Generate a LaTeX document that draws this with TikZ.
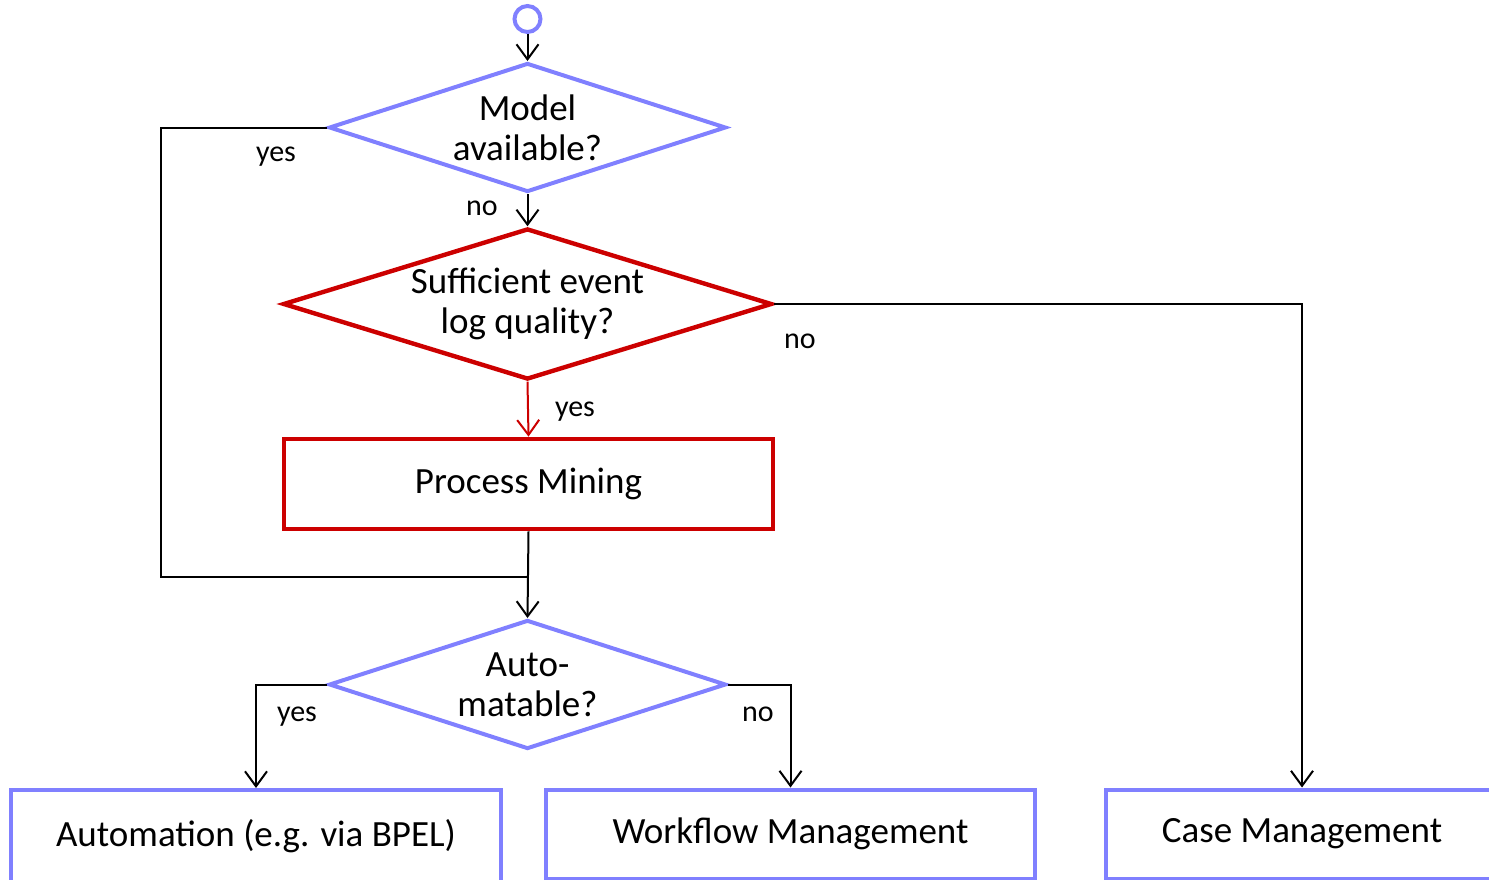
\documentclass[tikz,border=0pt]{standalone}
\usepackage{fontspec}
\setmainfont{Carlito}
\usetikzlibrary{shapes.geometric,arrows.meta}
\definecolor{flowblue}{RGB}{128,128,255}
\definecolor{flowred}{RGB}{204,0,0}
\tikzset{
  conn/.style={draw=black, line width=1pt},
  tip/.style={-{Straight Barb[length=7.5pt,width=11pt,line width=1pt]}},
  bluedia/.style={shape=diamond, draw=flowblue, line width=2pt, inner sep=0pt},
  reddia/.style={shape=diamond, draw=flowred, line width=2.2pt, inner sep=0pt},
  bluebox/.style={shape=rectangle, draw=flowblue, line width=2pt, inner sep=0pt,
    font=\fontsize{18.5}{21}\selectfont},
  redbox/.style={shape=rectangle, draw=flowred, line width=2.4pt, inner sep=0pt,
    font=\fontsize{18.5}{21}\selectfont},
  dtext/.style={font=\fontsize{18.5}{20}\selectfont, align=center},
  lbl/.style={font=\fontsize{15}{18}\selectfont, anchor=base},
}
\begin{document}
\begin{tikzpicture}[x=0.5pt, y=-0.5pt]
\useasboundingbox (0,0) rectangle (1489,879);

% start point
\node[circle, draw=flowblue, line width=2pt, minimum size=13pt, inner sep=0pt] (start) at (527.5,19) {};

% decisions
\node[bluedia, minimum width=198.5pt, minimum height=64.5pt,
      label={[dtext]center:Model\\available?}] (d1) at (527.5,127.5) {};
\node[reddia, minimum width=244.5pt, minimum height=75.5pt,
      label={[dtext]center:Sufficient event\\log quality?}] (d2) at (527.5,304) {};
\node[bluedia, minimum width=198.5pt, minimum height=64.5pt,
      label={[dtext]center:Auto-\\matable?}] (d3) at (527.5,684.5) {};

% activities
\node[redbox, minimum width=244.5pt, minimum height=45pt] (pm) at (528.5,484) {Process Mining};
\node[bluebox, minimum width=245pt, minimum height=46pt] (auto) at (256,836) {Automation (e.g. via BPEL)};
\node[bluebox, minimum width=244.5pt, minimum height=44.5pt] (wf) at (790.5,834) {Workflow Management};
\node[bluebox, minimum width=196pt, minimum height=44.5pt] (case) at (1302,834) {Case Management};

\coordinate (join) at (527.5,577);

% connectors
\draw[conn, tip] (start.south) -- (d1.north);
\draw[conn, tip] (d1.south) -- (d2.north);
\draw[draw=flowred, line width=1pt, -{Straight Barb[length=7.5pt,width=11pt,line width=1pt]}] (d2.south) -- (pm.north);
\draw[conn, tip] (d2.east) -| (case.north);
\draw[conn] (d1.west) -- ++(-166,0) |- (join);
\draw[conn, tip] (pm.south) -- (d3.north);
\draw[conn, tip] (d3.west) -| (auto.north);
\draw[conn, tip] (d3.east) -| (wf.north);

% branch labels
\node[lbl] (l1) at (276,161) {yes};
\node[lbl] (l2) at (482,215) {no};
\node[lbl] (l3) at (800,348) {no};
\node[lbl] (l4) at (575,416) {yes};
\node[lbl] (l5) at (297,721) {yes};
\node[lbl] (l6) at (758,721) {no};
\end{tikzpicture}
\end{document}
